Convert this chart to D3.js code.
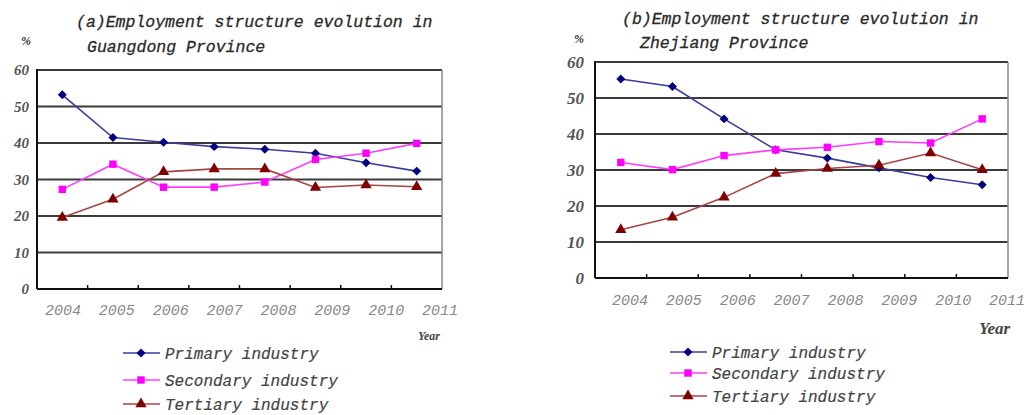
<!DOCTYPE html>
<html>
<head>
<meta charset="utf-8">
<script src="https://cdn.jsdelivr.net/npm/d3@7"></script>
<style>
  body { margin: 0; background: #fff; }
  svg { display: block; }
  .title { font-family: "Liberation Mono", monospace; font-style: italic; font-size: 16.5px; fill: #2a2a2a; stroke: #2a2a2a; stroke-width: 0.3px; }
  .ylab { font-family: "Liberation Serif", serif; font-style: italic; font-weight: bold; fill: #555; }
  .xlab { font-family: "Liberation Mono", monospace; font-style: italic; fill: #888; }
  .legend { font-family: "Liberation Mono", monospace; font-style: italic; font-size: 16px; fill: #444; stroke: #444; stroke-width: 0.2px; }
</style>
</head>
<body>
<svg id="chart" width="1028" height="415"></svg>
<script>
var years = ["2004", "2005", "2006", "2007", "2008", "2009", "2010", "2011"];
var yTicks = [0, 10, 20, 30, 40, 50, 60];
var seriesNames = ["Primary industry", "Secondary industry", "Tertiary industry"];

// (a) Guangdong
var gdPrimary   = [53.2, 41.5, 40.2, 39.0, 38.3, 37.2, 34.6, 32.3];
var gdSecondary = [27.3, 34.2, 27.9, 27.9, 29.3, 35.5, 37.2, 39.9];
var gdTertiary  = [19.6, 24.6, 32.1, 32.9, 32.9, 27.8, 28.5, 28.0];

// (b) Zhejiang
var zjPrimary   = [55.3, 53.2, 44.2, 35.6, 33.3, 30.6, 27.9, 25.9];
var zjSecondary = [32.1, 30.1, 34.0, 35.6, 36.3, 37.9, 37.5, 44.2];
var zjTertiary  = [13.4, 16.9, 22.4, 29.0, 30.4, 31.3, 34.7, 30.1];

var lineColors = ["#3c3c9c", "#ff3cff", "#a84444"];
var markColors = ["#000080", "#ff00ff", "#800000"];
// diamond = square turned 45 degrees
var symbols = [d3.symbolSquare, d3.symbolSquare, d3.symbolTriangle];
var symRotate = [45, 0, 0];
var symSizes = [40, 55, 55];

var svg = d3.select("#chart");

var charts = [
  {
    series: [gdPrimary, gdSecondary, gdTertiary],
    title: ["(a)Employment structure evolution in", "Guangdong Province"],
    titlePos: [[76, 27], [87, 52]],
    pct: [21, 45],
    box: {left: 37, right: 442, top: 70, bottom: 289},
    yLabX: 29, yFont: 15,
    xLab: {from: 63, to: 440, y: 315, size: 15},
    year: {x: 418, y: 340, size: 12},
    legend: {x: 123, y: [353, 380, 404]}
  },
  {
    series: [zjPrimary, zjSecondary, zjTertiary],
    title: ["(b)Employment structure evolution in", "Zhejiang Province"],
    titlePos: [[622, 24], [640, 48]],
    pct: [574, 43],
    box: {left: 595, right: 1008, top: 62, bottom: 278},
    yLabX: 584, yFont: 17,
    xLab: {from: 630, to: 1007, y: 305, size: 15},
    year: {x: 979, y: 334, size: 17},
    legend: {x: 670, y: [352, 373, 396]}
  }
];

charts.forEach(drawChart);

function drawChart(c) {
  var b = c.box;
  var x = d3.scaleBand().domain(years).range([b.left, b.right]);
  var y = d3.scaleLinear().domain([0, 60]).range([b.bottom, b.top]);
  var g = svg.append("g");

  // title
  c.title.forEach(function(t, i) {
    g.append("text").attr("class", "title")
        .attr("x", c.titlePos[i][0]).attr("y", c.titlePos[i][1])
        .text(t);
  });
  g.append("text").attr("class", "ylab")
      .attr("x", c.pct[0]).attr("y", c.pct[1])
      .style("font-size", "12px")
      .style("fill", "#333")
      .text("%");

  // grid lines (10..60)
  g.selectAll("line.grid")
      .data(yTicks.filter(function(v) { return v > 0; }))
      .enter().append("line")
        .attr("x1", b.left).attr("x2", b.right)
        .attr("y1", function(d) { return y(d); })
        .attr("y2", function(d) { return y(d); })
        .attr("stroke", "#3a3a3a").attr("stroke-width", 2);

  // right border
  g.append("line")
      .attr("x1", b.right).attr("x2", b.right)
      .attr("y1", b.top).attr("y2", b.bottom)
      .attr("stroke", "#888").attr("stroke-width", 1.5);

  // y axis line
  g.append("line")
      .attr("x1", b.left).attr("x2", b.left)
      .attr("y1", b.top - 1).attr("y2", b.bottom)
      .attr("stroke", "#111").attr("stroke-width", 2);

  // x axis line and ticks
  g.append("line")
      .attr("x1", b.left).attr("x2", b.right)
      .attr("y1", b.bottom).attr("y2", b.bottom)
      .attr("stroke", "#111").attr("stroke-width", 2);
  g.selectAll("line.xtick")
      .data(years.slice(1))
      .enter().append("line")
        .attr("x1", function(d) { return x(d); })
        .attr("x2", function(d) { return x(d); })
        .attr("y1", b.bottom).attr("y2", b.bottom - 4)
        .attr("stroke", "#111").attr("stroke-width", 1.5);

  // y tick labels
  g.selectAll("text.yl")
      .data(yTicks)
      .enter().append("text")
        .attr("class", "ylab")
        .attr("x", c.yLabX)
        .attr("y", function(d) { return y(d); })
        .attr("dy", "0.35em")
        .attr("text-anchor", "end")
        .style("font-size", c.yFont + "px")
        .text(function(d) { return d; });

  // x tick labels
  var xl = d3.scalePoint().domain(years).range([c.xLab.from, c.xLab.to]);
  g.selectAll("text.xl")
      .data(years)
      .enter().append("text")
        .attr("class", "xlab")
        .attr("x", function(d) { return xl(d); })
        .attr("y", c.xLab.y)
        .attr("text-anchor", "middle")
        .style("font-size", c.xLab.size + "px")
        .text(function(d) { return d; });

  g.append("text").attr("class", "ylab")
      .attr("x", c.year.x).attr("y", c.year.y)
      .style("font-size", c.year.size + "px")
      .style("fill", "#444")
      .text("Year");

  var cx = function(d, i) { return x(years[i]) + x.bandwidth() / 2; };
  var line = d3.line()
      .x(cx)
      .y(function(d) { return y(d); });

  c.series.forEach(function(s, k) {
    g.append("path")
        .attr("d", line(s))
        .attr("fill", "none")
        .attr("stroke", lineColors[k])
        .attr("stroke-width", 1.6);
    g.selectAll("path.m" + k)
        .data(s)
        .enter().append("path")
          .attr("transform", function(d, i) {
            return "translate(" + cx(d, i) + "," + y(d) + ") rotate(" + symRotate[k] + ")";
          })
          .attr("d", d3.symbol().type(symbols[k]).size(symSizes[k]))
          .attr("fill", markColors[k]);
  });

  // legend
  seriesNames.forEach(function(name, k) {
    var ly = c.legend.y[k];
    g.append("line")
        .attr("x1", c.legend.x).attr("x2", c.legend.x + 37)
        .attr("y1", ly).attr("y2", ly)
        .attr("stroke", lineColors[k]).attr("stroke-width", 1.6);
    g.append("path")
        .attr("transform", "translate(" + (c.legend.x + 18) + "," + ly + ") rotate(" + symRotate[k] + ")")
        .attr("d", d3.symbol().type(symbols[k]).size(symSizes[k]))
        .attr("fill", markColors[k]);
    g.append("text").attr("class", "legend")
        .attr("x", c.legend.x + 42).attr("y", ly)
        .attr("dy", "0.35em")
        .text(name);
  });
}
</script>
</body>
</html>
